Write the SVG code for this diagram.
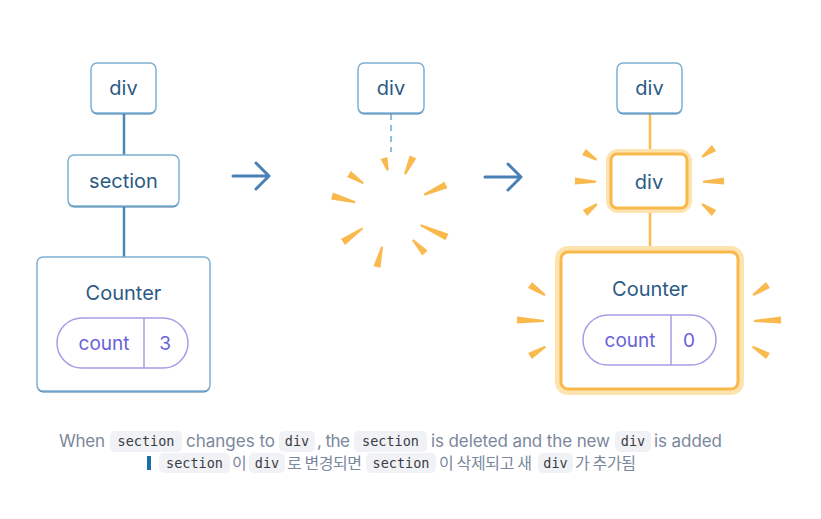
<svg xmlns="http://www.w3.org/2000/svg" width="821" height="519" viewBox="0 0 821 519">
<style>
.nodeShadow{fill:#3f78a6}
.node{fill:#fff;stroke:#7fb0d3;stroke-width:1.5}
.ntext{font-family:Inter,"Noto Sans",sans-serif;font-size:20px;fill:#2c5a84;text-anchor:middle;dominant-baseline:central}
.pill{fill:#fff;stroke:#a49ee6;stroke-width:1.5}
.ptext{font-family:Inter,"Noto Sans",sans-serif;font-size:19px;fill:#6a62d6;text-anchor:middle;dominant-baseline:central}
.link{stroke:#4a8ab5;stroke-width:2.5;fill:none}
.olink{stroke:#f9bb52;stroke-width:2.5;fill:none}
.glow{fill:none;stroke:#fde3b0;stroke-width:8}
.hl{fill:#fff;stroke:#f9b84a;stroke-width:3}
.ray{fill:#f9b94c}
.arrow{stroke:#4a80b8;stroke-width:3;fill:none;stroke-linecap:round;stroke-linejoin:round}
.cap{font-family:Inter,"Noto Sans",sans-serif;font-size:17px;fill:#7b879c}
.kcap{font-family:"Noto Sans CJK KR",sans-serif;font-size:16px;fill:#7b879c}
.codebg{fill:#f1f2f5}
.code{font-family:"DejaVu Sans Mono","Liberation Mono",monospace;font-size:13.5px;fill:#3a3d44;text-anchor:middle}
</style>
<defs>
<polygon id="ray" points="0,-3.6 20,-1 20,1 0,3.6"/>
</defs>

<g id="connectors">
<line class="link" x1="124" y1="113" x2="124" y2="155"/>
<line class="link" x1="124" y1="206" x2="124" y2="257"/>
<line stroke="#8fbfe0" stroke-width="2" stroke-dasharray="6,5" x1="391" y1="114" x2="391" y2="152"/>
<line class="olink" x1="650" y1="113" x2="650" y2="152"/>
<line class="olink" x1="650" y1="210" x2="650" y2="250"/>
<path class="arrow" d="M233,176 H269 M256,163 L269,176 L256,189"/>
<path class="arrow" d="M485,177 H521 M508,164 L521,177 L508,190"/>
</g>

<g id="left-div">
<rect class="nodeShadow" x="91" y="64.5" width="65" height="50" rx="6"/>
<rect class="node" x="91" y="63" width="65" height="50" rx="6"/>
<text class="ntext" x="123.5" y="88">div</text>
</g>
<g id="left-section">
<rect class="nodeShadow" x="68" y="156.5" width="111" height="51" rx="6"/>
<rect class="node" x="68" y="155" width="111" height="51" rx="6"/>
<text class="ntext" x="123.5" y="180.5">section</text>
</g>
<g id="left-counter">
<rect class="nodeShadow" x="37" y="258.5" width="173" height="134" rx="6"/>
<rect class="node" x="37" y="257" width="173" height="134" rx="6"/>
<text class="ntext" x="123.5" y="292.5">Counter</text>
<rect class="pill" x="57" y="318" width="131" height="50" rx="25"/>
<line x1="144" y1="318" x2="144" y2="368" stroke="#a49ee6" stroke-width="1.5"/>
<text class="ptext" x="104" y="343.5">count</text>
<text class="ptext" x="165" y="343.5">3</text>
</g>

<g id="mid-div">
<rect class="nodeShadow" x="358" y="64.5" width="66" height="50" rx="6"/>
<rect class="node" x="358" y="63" width="66" height="50" rx="6"/>
<text class="ntext" x="391" y="88">div</text>
</g>
<g id="burst" class="ray">
<use href="#ray" transform="translate(384,158) rotate(73) scale(0.65,1)"/>
<use href="#ray" transform="translate(413,157) rotate(115) scale(0.95,1)"/>
<use href="#ray" transform="translate(349,174) rotate(33) scale(0.85,1)"/>
<use href="#ray" transform="translate(332,196) rotate(15) scale(1.2,1)"/>
<use href="#ray" transform="translate(446,185) rotate(156) scale(1.2,1)"/>
<use href="#ray" transform="translate(343,242) rotate(-35) scale(1.2,1)"/>
<use href="#ray" transform="translate(447,237) rotate(-156) scale(1.45,1)"/>
<use href="#ray" transform="translate(425,253) rotate(-133) scale(0.9,1)"/>
<use href="#ray" transform="translate(377,267) rotate(-76) scale(1.05,1)"/>
</g>

<g id="right-div">
<rect class="nodeShadow" x="617" y="64.5" width="65" height="50" rx="6"/>
<rect class="node" x="617" y="63" width="65" height="50" rx="6"/>
<text class="ntext" x="649.5" y="88">div</text>
</g>
<g id="right-newdiv">
<rect class="glow" x="610" y="153" width="78" height="56" rx="8"/>
<rect class="hl" x="611" y="154" width="76" height="54" rx="6"/>
<text class="ntext" x="649" y="181.5">div</text>
<g class="ray">
<use href="#ray" transform="translate(584,152) rotate(32) scale(0.75,1)"/>
<use href="#ray" transform="translate(575,181) rotate(2) scale(1.05,1)"/>
<use href="#ray" transform="translate(585,213) rotate(-37) scale(0.75,1)"/>
<use href="#ray" transform="translate(714,148) rotate(143) scale(0.75,1)"/>
<use href="#ray" transform="translate(724,181) rotate(178) scale(1.05,1)"/>
<use href="#ray" transform="translate(714,213) rotate(-143) scale(0.75,1)"/>
</g>
</g>
<g id="right-counter">
<rect class="glow" x="559" y="250" width="181" height="141" rx="9"/>
<rect class="hl" x="561" y="252" width="177" height="137" rx="7"/>
<text class="ntext" x="650" y="289">Counter</text>
<rect class="pill" x="583" y="315" width="133" height="50" rx="25"/>
<line x1="671" y1="315" x2="671" y2="365" stroke="#a49ee6" stroke-width="1.5"/>
<text class="ptext" x="630" y="340.5">count</text>
<text class="ptext" x="689" y="340.5">0</text>
<g class="ray">
<use href="#ray" transform="translate(530,285) rotate(34) scale(0.9,1)"/>
<use href="#ray" transform="translate(517,320) rotate(2) scale(1.35,1)"/>
<use href="#ray" transform="translate(530,356) rotate(-31) scale(0.9,1)"/>
<use href="#ray" transform="translate(768,285) rotate(146) scale(0.9,1)"/>
<use href="#ray" transform="translate(781,320) rotate(178) scale(1.35,1)"/>
<use href="#ray" transform="translate(768,356) rotate(-149) scale(0.9,1)"/>
</g>
</g>

<g id="caption">
<rect class="codebg" x="110" y="431" width="72" height="21" rx="5"/>
<rect class="codebg" x="279" y="431" width="36" height="21" rx="5"/>
<rect class="codebg" x="354" y="431" width="73" height="21" rx="5"/>
<rect class="codebg" x="615" y="431" width="36" height="21" rx="5"/>
<text class="cap" x="59" y="447" textLength="46">When</text>
<text class="code" x="146" y="446">section</text>
<text class="cap" x="186" y="447" textLength="89">changes to</text>
<text class="code" x="297" y="446">div</text>
<text class="cap" x="317" y="447" textLength="33">, the</text>
<text class="code" x="390.5" y="446">section</text>
<text class="cap" x="431" y="447" textLength="179">is deleted and the new</text>
<text class="code" x="633" y="446">div</text>
<text class="cap" x="654" y="447" textLength="68">is added</text>

<rect x="147" y="456" width="4" height="14" fill="#1a6fa8"/>
<rect class="codebg" x="159" y="453" width="71" height="20" rx="5"/>
<rect class="codebg" x="249" y="453" width="36" height="20" rx="5"/>
<rect class="codebg" x="366" y="453" width="70" height="20" rx="5"/>
<rect class="codebg" x="538" y="453" width="35" height="20" rx="5"/>
<text class="code" x="194.5" y="468">section</text>
<text class="kcap" x="232" y="469">이</text>
<text class="code" x="267" y="468">div</text>
<text class="kcap" x="287" y="469" textLength="75">로 변경되면</text>
<text class="code" x="401" y="468">section</text>
<text class="kcap" x="439" y="469" textLength="93">이 삭제되고 새</text>
<text class="code" x="555.5" y="468">div</text>
<text class="kcap" x="575" y="469" textLength="61">가 추가됨</text>
</g>
</svg>
